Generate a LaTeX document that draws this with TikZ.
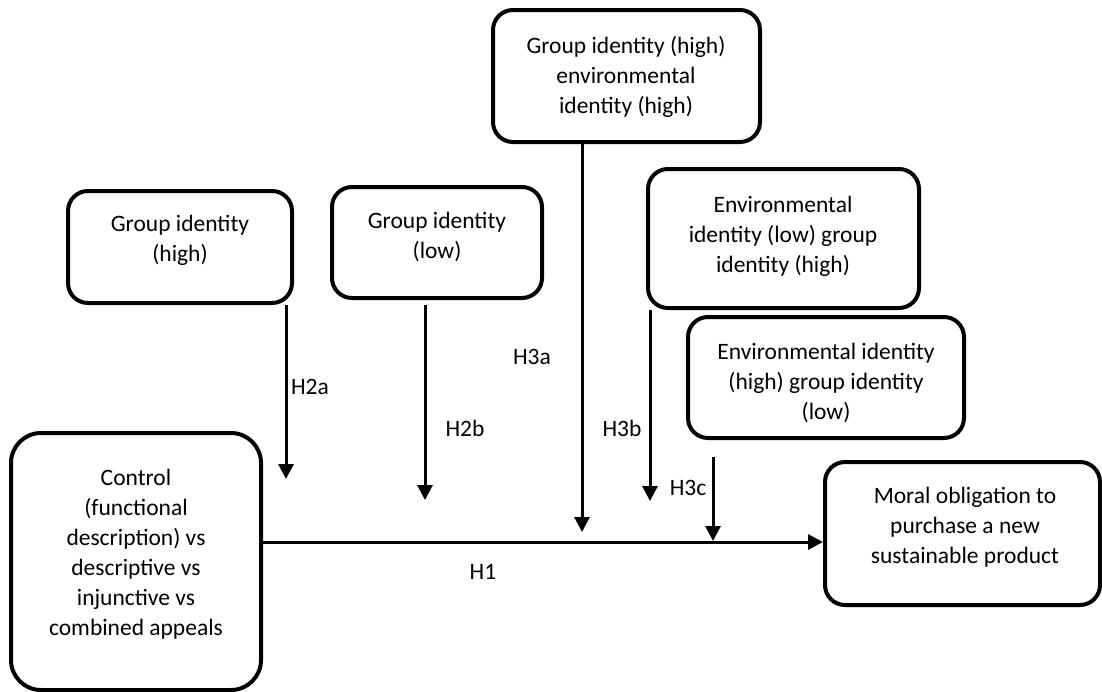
\documentclass[tikz,border=0pt]{standalone}
\usepackage{fontspec}
\setmainfont{Carlito}
\usetikzlibrary{arrows.meta}
\begin{document}
\begin{tikzpicture}[x=1pt,y=-1pt,
 box/.style={draw, line width=4pt, rounded corners=20pt, inner sep=0pt},
 txt/.style={align=center, font=\fontsize{23.5}{30}\selectfont, inner sep=0pt},
 lbl/.style={font=\fontsize{23.5}{30}\selectfont, inner sep=0pt},
 arr/.style={line width=3pt, -{Triangle[width=15pt,length=15pt]}}]
\useasboundingbox (0,0) rectangle (1102,691);
% boxes
\node[box, minimum width=224pt, minimum height=112pt] (gh) at (180,247) {};
\node[box, minimum width=210pt, minimum height=111pt] (gl) at (437,242.5) {};
\node[box, minimum width=267pt, minimum height=132pt] (top) at (626.5,76) {};
\node[box, minimum width=271pt, minimum height=139pt] (e1) at (783.5,238.5) {};
\node[box, minimum width=276pt, minimum height=121pt] (e2) at (826,377.5) {};
\node[box, minimum width=275pt, minimum height=143pt] (moral) at (962.5,533.5) {};
\node[box, rounded corners=30pt, minimum width=250pt, minimum height=257pt] (ctrl) at (136,561.5) {};
% texts
\node[txt] (ghT) at (180,240) {Group identity\\(high)};
\node[txt] (glT) at (437,237) {Group identity\\(low)};
\node[txt] (topT) at (626,76.5) {Group identity (high)\\environmental\\identity (high)};
\node[txt] (e1T) at (783,236) {Environmental\\identity (low) group\\identity (high)};
\node[txt] (e2T) at (826,382.5) {Environmental identity\\(high) group identity\\(low)};
\node[txt] (moralT) at (965,527.5) {Moral obligation to\\purchase a new\\sustainable product};
\node[txt] (ctrlT) at (136,554) {Control\\(functional\\description) vs\\descriptive vs\\injunctive vs\\combined appeals};
% labels
\node[lbl] (lH2a) at (310,387) {H2a};
\node[lbl] (lH2b) at (465,428) {H2b};
\node[lbl] (lH3a) at (532,357) {H3a};
\node[lbl] (lH3b) at (622,428) {H3b};
\node[lbl] (lH3c) at (688,488) {H3c};
\node[lbl] (lH1) at (483,572) {H1};
% arrow end points
\coordinate (m) at (0,542);
\coordinate (a2) at (286,479);
\coordinate (b2) at (425,500);
\coordinate (a3) at (582,532);
\coordinate (b3) at (650,501);
\coordinate (c3) at (713,541);
\draw[arr] (gh.south -| a2) -- (a2);
\draw[arr, shorten <=5pt] (gl.south -| b2) -- (b2);
\draw[arr] (top.south -| a3) -- (a3);
\draw[arr] (e1.south -| b3) -- (b3);
\draw[arr, shorten <=17pt] (e2.south -| c3) -- (c3);
\draw[arr] (ctrl.east |- m) -- (moral.west |- m);
\end{tikzpicture}
\end{document}
